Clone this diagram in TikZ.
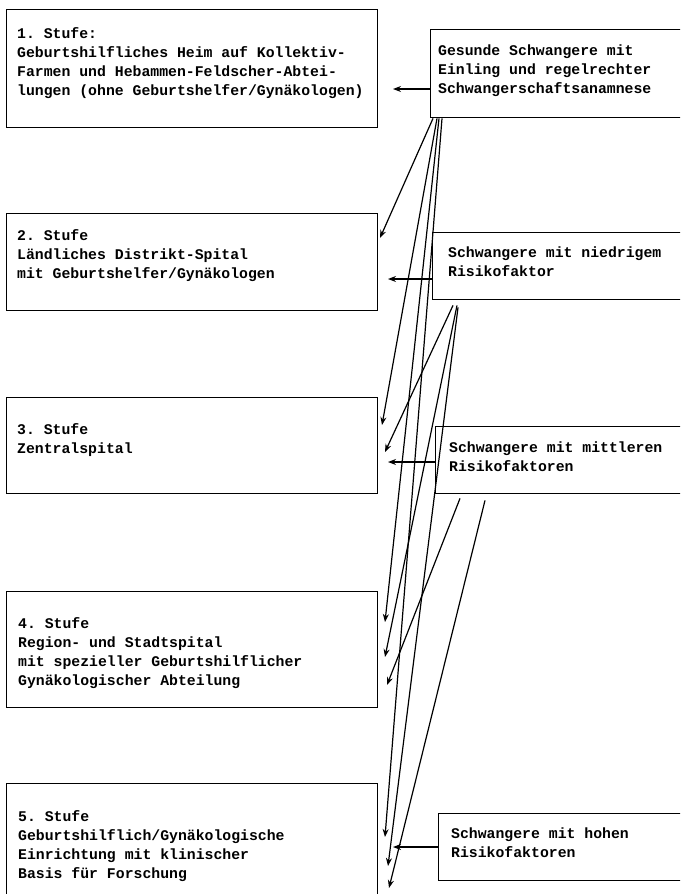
\documentclass[tikz,border=0pt]{standalone}
\usepackage{fontspec}
\setmonofont{Liberation Mono}
\usepackage{tikz}
\usetikzlibrary{arrows.meta,positioning,calc}
\tikzset{
    stufe-box/.style={
        rectangle,
        draw=black,
        line width=1.4pt,
        inner sep=0pt,
        anchor=north west
    },
    stufe-text/.style={
        inner sep=0pt,
        align=left,
        font=\ttfamily\bfseries\fontsize{14.8}{19}\selectfont
    },
    every edge/.style={
        draw,
        line width=1.2pt
    },
}

\begin{document}
\begin{tikzpicture}[x=1pt,y=-1pt,>={Stealth[length=8pt,width=6pt]}]
       \useasboundingbox (0,0) rectangle (680,894);
       \clip (0,0) rectangle (680,894);

       % Stufen
       \node[stufe-box,minimum width=371pt,minimum height=118pt] (s1) at (6,9) {};
       \node[stufe-box,minimum width=371pt,minimum height=97pt] (s2) at (6,213) {};
       \node[stufe-box,minimum width=371pt,minimum height=96pt] (s3) at (6,397) {};
       \node[stufe-box,minimum width=371pt,minimum height=116pt] (s4) at (6,591) {};
       \node[stufe-box,minimum width=371pt,minimum height=140pt] (s5) at (6,783) {};

       \node[stufe-text,below right=18pt and 11pt of s1.north west] (s1t)
           {1. Stufe:\\Geburtshilfliches Heim auf Kollektiv-\\Farmen und Hebammen-Feldscher-Abtei-\\lungen (ohne Geburtshelfer/Gynäkologen)};
       \node[stufe-text,below right=16pt and 11pt of s2.north west] (s2t)
           {2. Stufe\\Ländliches Distrikt-Spital\\mit Geburtshelfer/Gynäkologen};
       \node[stufe-text,below right=26pt and 11pt of s3.north west] (s3t)
           {3. Stufe\\Zentralspital};
       \node[stufe-text,below right=26pt and 12pt of s4.north west] (s4t)
           {4. Stufe\\Region- und Stadtspital\\mit spezieller Geburtshilflicher\\Gynäkologischer Abteilung};
       \node[stufe-text,below right=27pt and 12pt of s5.north west] (s5t)
           {5. Stufe\\Geburtshilflich/Gynäkologische\\Einrichtung mit klinischer\\Basis für Forschung};

       % Schwangere
       \node[stufe-box,minimum width=280pt,minimum height=88pt] (r1) at (430,29) {};
       \node[stufe-box,minimum width=280pt,minimum height=67pt] (r2) at (432,232) {};
       \node[stufe-box,minimum width=280pt,minimum height=67pt] (r3) at (435,426) {};
       \node[stufe-box,minimum width=280pt,minimum height=67pt] (r4) at (438,813) {};

       \node[stufe-text,below right=16pt and 8pt of r1.north west] (r1t)
           {Gesunde Schwangere mit\\Einling und regelrechter\\Schwangerschaftsanamnese};
       \node[stufe-text,below right=15pt and 16pt of r2.north west] (r2t)
           {Schwangere mit niedrigem\\Risikofaktor};
       \node[stufe-text,below right=16pt and 14pt of r3.north west] (r3t)
           {Schwangere mit mittleren\\Risikofaktoren};
       \node[stufe-text,below right=15pt and 13pt of r4.north west] (r4t)
           {Schwangere mit hohen\\Risikofaktoren};

       % Pfeilspitzen
       \coordinate (e1) at (393,89);
       \coordinate (e2a) at (380,238);
       \coordinate (e2b) at (388,279);
       \coordinate (e3a) at (382,425);
       \coordinate (e3b) at (385,452);
       \coordinate (e3c) at (388,462);
       \coordinate (e4a) at (385,622);
       \coordinate (e4b) at (385,657);
       \coordinate (e4c) at (387,685);
       \coordinate (e5a) at (385,837);
       \coordinate (e5b) at (393,847);
       \coordinate (e5c) at (388,866);
       \coordinate (e5d) at (389,888);

       \draw (e1 -| r1.west) edge[->] (e1);
       \draw (e2b -| r2.west) edge[->] (e2b);
       \draw (e3c -| r3.west) edge[->] (e3c);
       \draw (e5b -| r4.west) edge[->] (e5b);

       \draw ([xshift=3pt]r1.south west) edge[->] (e2a);
       \draw ([xshift=7pt]r1.south west) edge[->] (e3a);
       \draw ([xshift=9pt]r1.south west) edge[->] (e4a);
       \draw ([xshift=12pt]r1.south west) edge[->] (e5a);

       \draw ([xshift=21pt,yshift=-5pt]r2.south west) edge[->] (e3b);
       \draw ([xshift=25pt,yshift=-5pt]r2.south west) edge[->] (e4b);
       \draw ([xshift=26pt,yshift=-7pt]r2.south west) edge[->] (e5c);

       \draw ([xshift=25pt,yshift=-4pt]r3.south west) edge[->] (e4c);
       \draw ([xshift=50pt,yshift=-6pt]r3.south west) edge[->] (e5d);
   \end{tikzpicture}
\end{document}
